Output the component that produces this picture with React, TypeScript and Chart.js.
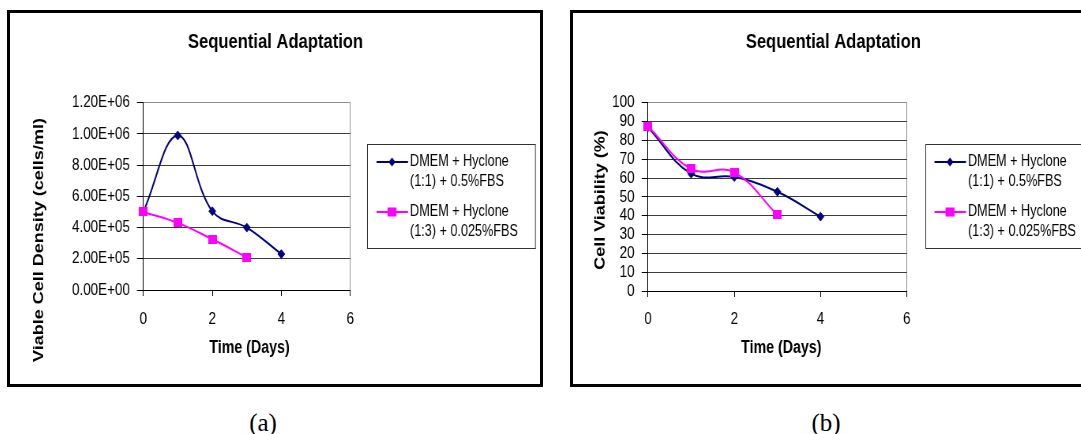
import React, { useEffect, useRef } from 'react';
import { Chart, registerables } from 'chart.js';

Chart.register(...registerables);

// ---------- data ----------
const chartTitle = 'Sequential Adaptation';
const xAxisTitle = 'Time (Days)';
const yAxisTitleA = 'Viable Cell Density (cells/ml)';
const yAxisTitleB = 'Cell Viability (%)';
const seriesNames = [
  ['DMEM + Hyclone', '(1:1) + 0.5%FBS'],
  ['DMEM + Hyclone', '(1:3) + 0.025%FBS'],
];
const days1 = [0, 1, 2, 3, 4];
const days2 = [0, 1, 2, 3];
const densitySeries1 = [5.0e5, 9.9e5, 5.05e5, 4.0e5, 2.3e5];
const densitySeries2 = [5.0e5, 4.3e5, 3.25e5, 2.1e5];
const viabilitySeries1 = [87, 62.3, 60.5, 52.7, 39.5];
const viabilitySeries2 = [87.5, 64.8, 63, 40.4];
const xTickValues = [0, 2, 4, 6];
const captions = ['(a)', '(b)'];

// ---------- styles ----------
const S = 0.79; // horizontal squeeze of the original picture
const FONT = '"Liberation Sans", Arial, Helvetica, sans-serif';
const NAVY = '#000080';
const MAGENTA = '#FF00FF';

function sci(v: number): string {
  const [m, e] = Number(v).toExponential(2).split('e');
  const ex = parseInt(e, 10);
  return m + 'E' + (ex < 0 ? '-' : '+') + String(Math.abs(ex)).padStart(2, '0');
}

function squareImage(color: string) {
  const c = document.createElement('canvas');
  c.width = Math.round(9 / S);
  c.height = 9;
  const g = c.getContext('2d')!;
  g.fillStyle = color;
  g.fillRect(0, 0, c.width, c.height);
  return c;
}

const decorPlugin = {
  id: 'decor',
  afterDraw(chart: any, _args: any, o: any) {
    const ctx = chart.ctx as CanvasRenderingContext2D;
    ctx.save();
    ctx.fillStyle = '#000';
    ctx.textAlign = 'center';
    ctx.textBaseline = 'middle';
    ctx.font = `bold 21px ${FONT}`;
    ctx.fillText(o.title, o.titleX, o.titleY);
    ctx.font = `bold 18px ${FONT}`;
    ctx.fillText(o.xTitle, o.xTitleX, o.xTitleY);
    ctx.save();
    ctx.translate(o.yTitleX, o.yTitleY);
    ctx.rotate(-Math.PI / 2);
    ctx.fillText(o.yTitle, 0, 0);
    ctx.restore();

    // legend
    const L = o.legend;
    ctx.strokeStyle = '#333';
    ctx.lineWidth = 1;
    ctx.strokeRect(Math.round(L.x) + 0.5, Math.round(L.y) + 0.5, L.w, L.h);
    ctx.textAlign = 'left';
    ctx.font = `16px ${FONT}`;
    chart.data.datasets.forEach((ds: any, i: number) => {
      const y1 = L.rows[i * 2];
      const y2 = L.rows[i * 2 + 1];
      ctx.strokeStyle = ds.borderColor;
      ctx.lineWidth = 2;
      ctx.beginPath();
      ctx.moveTo(L.lineX1, y1);
      ctx.lineTo(L.lineX2, y1);
      ctx.stroke();
      ctx.fillStyle = ds.borderColor;
      if (i === 0) {
        const r = 4.4;
        ctx.beginPath();
        ctx.moveTo(L.markX - r, y1);
        ctx.lineTo(L.markX, y1 - r);
        ctx.lineTo(L.markX + r, y1);
        ctx.lineTo(L.markX, y1 + r);
        ctx.closePath();
        ctx.fill();
      } else {
        const w = 9 / S;
        ctx.fillRect(L.markX - w / 2, y1 - 4.5, w, 9);
      }
      ctx.fillStyle = '#000';
      const names = ds.legendLines as string[];
      ctx.fillText(names[0], L.textX, y1);
      ctx.fillText(names[1], L.textX, y2);
    });
    ctx.restore();
  },
};

type PanelSpec = {
  ox: number; oy: number; cw: number; ch: number;
  area: { left: number; right: number; top: number; bottom: number };
  yMax: number; yStep: number; yFormat: (v: number) => string;
  s1: number[]; s2: number[]; yTitle: string;
  titleC: [number, number]; xTitleC: [number, number]; yTitleC: [number, number];
  legend: { x: number; y: number; w: number; h: number };
  xPad: number;
};

function buildConfig(p: PanelSpec): any {
  const cx = (px: number) => (px - p.ox) / S;
  const cy = (py: number) => py - p.oy;
  const a = { left: cx(p.area.left), right: cx(p.area.right), top: cy(p.area.top), bottom: cy(p.area.bottom) };
  const lg = p.legend;
  const rowsPage = [lg.y + 18, lg.y + 38, lg.y + 68, lg.y + 88];
  const legend = {
    x: cx(lg.x), y: cy(lg.y), w: lg.w / S, h: lg.h,
    lineX1: cx(lg.x + 9.5), lineX2: cx(lg.x + 41), markX: cx(lg.x + 25), textX: cx(lg.x + 43),
    rows: rowsPage.map(cy),
  };
  return {
    type: 'line',
    data: {
      datasets: [
        {
          label: seriesNames[0].join(' '),
          legendLines: seriesNames[0],
          data: days1.map((d, i) => ({ x: d, y: p.s1[i] })),
          borderColor: NAVY, backgroundColor: NAVY,
          borderWidth: 2, tension: 0.4,
          pointStyle: 'rectRot', pointRadius: 4.4,
          pointBackgroundColor: NAVY, pointBorderColor: NAVY, pointBorderWidth: 1,
          clip: false, order: 1, fill: false,
        },
        {
          label: seriesNames[1].join(' '),
          legendLines: seriesNames[1],
          data: days2.map((d, i) => ({ x: d, y: p.s2[i] })),
          borderColor: MAGENTA, backgroundColor: MAGENTA,
          borderWidth: 2, tension: 0.4,
          pointStyle: squareImage(MAGENTA), pointRadius: 5,
          clip: false, order: 0, fill: false,
        },
      ],
    },
    options: {
      responsive: false,
      animation: false,
      devicePixelRatio: 1,
      events: [],
      layout: { padding: { left: 0, top: a.top, right: p.cw - a.right, bottom: 0 } },
      plugins: {
        legend: { display: false },
        tooltip: { enabled: false },
        title: { display: false },
        decor: {
          title: chartTitle, titleX: cx(p.titleC[0]), titleY: cy(p.titleC[1]),
          xTitle: xAxisTitle, xTitleX: cx(p.xTitleC[0]), xTitleY: cy(p.xTitleC[1]),
          yTitle: p.yTitle, yTitleX: cx(p.yTitleC[0]), yTitleY: cy(p.yTitleC[1]),
          legend,
        },
      },
      scales: {
        x: {
          type: 'linear', min: 0, max: 6,
          afterFit: (s: any) => { s.height = p.ch - a.bottom; },
          afterBuildTicks: (s: any) => { s.ticks = xTickValues.map((v) => ({ value: v })); },
          ticks: { font: { size: 17, family: FONT }, color: '#000', padding: p.xPad, maxRotation: 0, autoSkip: false },
          grid: {
            color: (c: any) => (c.tick && c.tick.value === 6 ? '#8c8c8c' : 'rgba(0,0,0,0)'),
            tickColor: '#000', tickLength: 6, lineWidth: 1,
          },
          border: { color: '#000', width: 1 },
        },
        y: {
          type: 'linear', min: 0, max: p.yMax,
          afterFit: (s: any) => { s.width = a.left; },
          ticks: {
            stepSize: p.yStep, autoSkip: false,
            callback: (v: any) => p.yFormat(Number(v)),
            font: { size: 17, family: FONT }, color: '#000', padding: 9,
          },
          grid: {
            color: (c: any) => (c.tick && c.tick.value === p.yMax ? '#8c8c8c' : '#3c3c3c'),
            tickColor: '#000', tickLength: 8, lineWidth: 1,
          },
          border: { color: '#000', width: 1 },
        },
      },
    },
    plugins: [decorPlugin],
  };
}

const panelA: PanelSpec = {
  ox: 10, oy: 13, cw: Math.round(530 / S), ch: 371,
  area: { left: 143.3, right: 350.3, top: 102.7, bottom: 290 },
  yMax: 1.2e6, yStep: 2e5, yFormat: sci,
  s1: densitySeries1, s2: densitySeries2, yTitle: yAxisTitleA,
  titleC: [275.5, 42.5], xTitleC: [249.5, 348], yTitleC: [39, 240],
  legend: { x: 367, y: 144, w: 168, h: 104 },
  xPad: 13,
};

const panelB: PanelSpec = {
  ox: 573, oy: 13, cw: Math.round(534 / S), ch: 371,
  area: { left: 648, right: 906.8, top: 102.7, bottom: 291 },
  yMax: 100, yStep: 10, yFormat: (v: number) => String(v),
  s1: viabilitySeries1, s2: viabilitySeries2, yTitle: yAxisTitleB,
  titleC: [833.3, 42.5], xTitleC: [781.3, 348], yTitleC: [600.8, 200],
  legend: { x: 925, y: 144, w: 168, h: 104 },
  xPad: 12,
};

function Panel({ spec, left, width }: { spec: PanelSpec; left: number; width: number }) {
  const ref = useRef<HTMLCanvasElement>(null);
  useEffect(() => {
    const chart = new Chart(ref.current!, buildConfig(spec));
    return () => chart.destroy();
  }, [spec]);
  return (
    <div
      style={{
        position: 'absolute', left, top: 10, width, height: 377,
        border: '3px solid #000', boxSizing: 'border-box', overflow: 'hidden', background: '#fff',
      }}
    >
      <div
        style={{
          position: 'absolute', left: 0, top: 0, width: spec.cw, height: spec.ch,
          transform: `scaleX(${S})`, transformOrigin: '0 0',
        }}
      >
        <canvas ref={ref} width={spec.cw} height={spec.ch} style={{ display: 'block' }} />
      </div>
    </div>
  );
}

export default function App() {
  const capStyle: React.CSSProperties = {
    position: 'absolute', top: 409, width: 100, textAlign: 'center',
    font: '25px "Liberation Serif", "Times New Roman", serif', lineHeight: '28px', color: '#000',
  };
  return (
    <div style={{ position: 'fixed', left: 0, top: 0, width: 1081, height: 434, overflow: 'hidden', background: '#fff' }}>
      <Panel spec={panelA} left={7} width={536} />
      <Panel spec={panelB} left={570} width={540} />
      <div style={{ ...capStyle, left: 263 - 50 }}>{captions[0]}</div>
      <div style={{ ...capStyle, left: 826 - 50 }}>{captions[1]}</div>
    </div>
  );
}
